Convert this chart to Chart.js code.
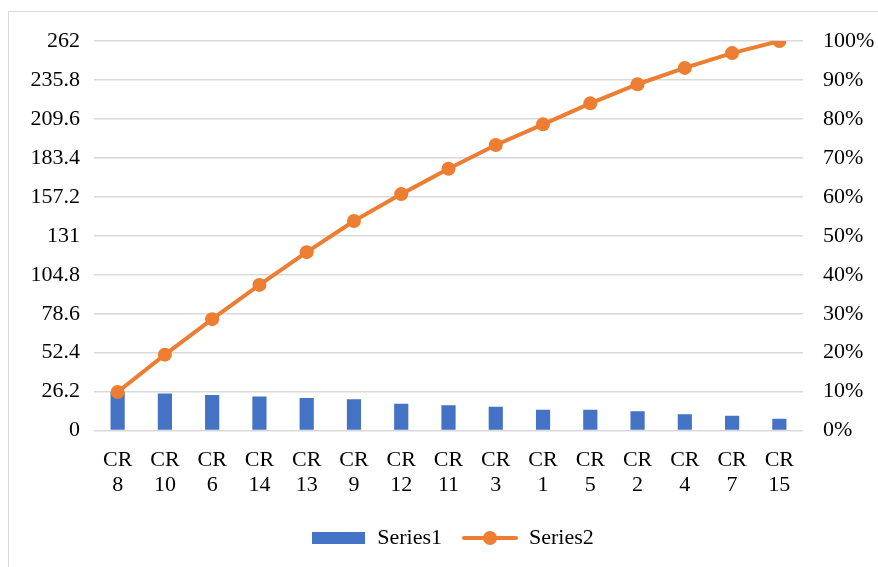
<!DOCTYPE html>
<html><head><meta charset="utf-8">
<script src="https://cdn.jsdelivr.net/npm/chart.js@4/dist/chart.umd.min.js"></script>
<style>
html,body{margin:0;padding:0;background:#fff;}
#frame{position:absolute;left:8px;top:11px;width:880px;height:570px;border:1px solid #d9d9d9;box-sizing:border-box;}
#wrap{position:absolute;left:0;top:0;width:878px;height:567px;}
</style></head>
<body>
<div id="frame"></div>
<div id="wrap"><canvas id="c" width="878" height="567"></canvas></div>
<script>
const categories = [["CR","8"],["CR","10"],["CR","6"],["CR","14"],["CR","13"],["CR","9"],["CR","12"],["CR","11"],["CR","3"],["CR","1"],["CR","5"],["CR","2"],["CR","4"],["CR","7"],["CR","15"]];
const series1 = [26,25,24,23,22,21,18,17,16,14,14,13,11,10,8];
const series2 = [9.9,19.5,28.6,37.4,45.8,53.8,60.7,67.2,73.3,78.6,84.0,88.9,93.1,96.9,100];
const leftTicks = [0,26.2,52.4,78.6,104.8,131,157.2,183.4,209.6,235.8,262];
const rightTicks = [0,10,20,30,40,50,60,70,80,90,100];

const BLUE = '#4472C4', ORANGE = '#ED7D31', GRID = '#d9d9d9';
const FONT = {family:'"Liberation Serif","Times New Roman",serif', size:22};
const XFONT = {family:'"Liberation Serif","Times New Roman",serif', size:22, lineHeight:1.1};

function barIcon(){
  const c=document.createElement('canvas'); c.width=53; c.height=12;
  const g=c.getContext('2d'); g.fillStyle=BLUE; g.fillRect(0,0,53,12); return c;
}
function lineIcon(){
  const c=document.createElement('canvas'); c.width=56; c.height=16;
  const g=c.getContext('2d'); g.strokeStyle=ORANGE; g.lineWidth=4; g.lineCap='round';
  g.beginPath(); g.moveTo(2,8); g.lineTo(54,8); g.stroke();
  g.fillStyle=ORANGE; g.beginPath(); g.arc(28,8,7,0,Math.PI*2); g.fill(); return c;
}
const icons=[barIcon(), lineIcon()];

new Chart(document.getElementById('c'), {
  data:{
    labels:categories,
    datasets:[
      {type:'line', label:'Series2', data:series2, yAxisID:'y1', borderColor:ORANGE, backgroundColor:ORANGE,
       borderWidth:4, pointRadius:7, pointHoverRadius:7, pointBackgroundColor:ORANGE, pointBorderWidth:0, tension:0, order:0},
      {type:'bar', label:'Series1', data:series1, yAxisID:'y', backgroundColor:BLUE,
       barPercentage:0.6, categoryPercentage:0.5, order:1}
    ]
  },
  options:{
    responsive:false, animation:false,
    layout:{padding:{left:30, right:4, top:41, bottom:8}},
    scales:{
      x:{grid:{display:false}, border:{display:false}, ticks:{font:XFONT, color:'#000', maxRotation:0, padding:10}},
      y:{position:'left', min:0, max:262,
         afterBuildTicks:(a)=>{a.ticks=leftTicks.map(v=>({value:v}));},
         afterFit:(s)=>{s.width=64;},
         ticks:{font:FONT, color:'#000', padding:14, callback:(v)=>String(v)},
         grid:{color:GRID, lineWidth:1.5, drawTicks:false}, border:{display:false}},
      y1:{position:'right', min:0, max:100,
         afterBuildTicks:(a)=>{a.ticks=rightTicks.map(v=>({value:v}));},
         afterFit:(s)=>{s.width=71;},
         ticks:{font:FONT, color:'#000', padding:20, callback:(v)=>v+'%'},
         grid:{display:false, drawTicks:false}, border:{display:false}}
    },
    plugins:{
      tooltip:{enabled:false},
      legend:{position:'bottom',
        labels:{font:FONT, color:'#000', usePointStyle:true, pointStyleWidth:56, padding:20,
          generateLabels:(chart)=>{
            return [
              {text:'Series1', pointStyle:icons[0], fillStyle:BLUE, strokeStyle:BLUE, lineWidth:0, datasetIndex:1, hidden:false},
              {text:'Series2', pointStyle:icons[1], fillStyle:ORANGE, strokeStyle:ORANGE, lineWidth:0, datasetIndex:0, hidden:false}
            ];
          }}}
    }
  }
});
</script>
</body></html>
